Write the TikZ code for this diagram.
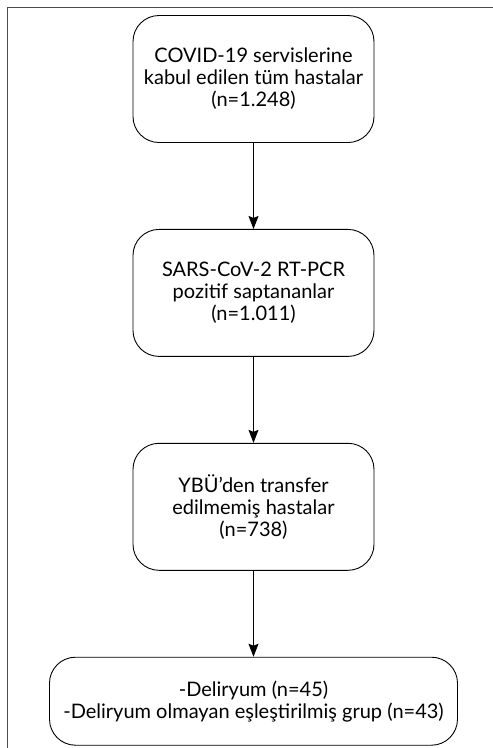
\documentclass[tikz,border=0pt]{standalone}
\usepackage{fontspec}
\setmainfont{Lato}
\usetikzlibrary{arrows.meta,positioning}

\begin{document}
\begin{tikzpicture}[x=1pt,y=1pt,node distance= 86pt]
      \useasboundingbox (0,0) rectangle (493,-748);
      \draw[line width=1.6pt, color=black!70] (7.5,-748) -- (7.5,-7.5) -- (493,-7.5);
      \begin{scope}[every node/.style={rectangle,rounded corners=26pt,draw,line width=0.9pt,
          align=center,font=\fontsize{20}{22}\selectfont,minimum height=127pt,
          minimum width=241pt,inner sep=0pt}]
        \node (kabul) at (253.5,-79) {COVID-19 servislerine\\kabul edilen tüm hastalar\\(n=1.248)};
        \node (pcr) [below= of kabul] {SARS-CoV-2 RT-PCR\\pozitif saptananlar\\(n=1.011)};
        \node (ybu) [below= of pcr] {YBÜ’den transfer\\edilmemiş hastalar\\(n=738)};
        \node (grup) [below= of ybu, minimum width=408pt, minimum height=88pt] {-Deliryum (n=45)\\-Deliryum olmayan eşleştirilmiş grup (n=43)};
      \end{scope}
      \begin{scope}
        [every edge/.style={draw= black, line width=0.9pt, -{Stealth[length=13pt,width=10pt,inset=2pt]}}]
        \path (kabul) edge (pcr);
        \path (pcr) edge (ybu);
        \path (ybu) edge (grup);
      \end{scope}
    \end{tikzpicture}
\end{document}
